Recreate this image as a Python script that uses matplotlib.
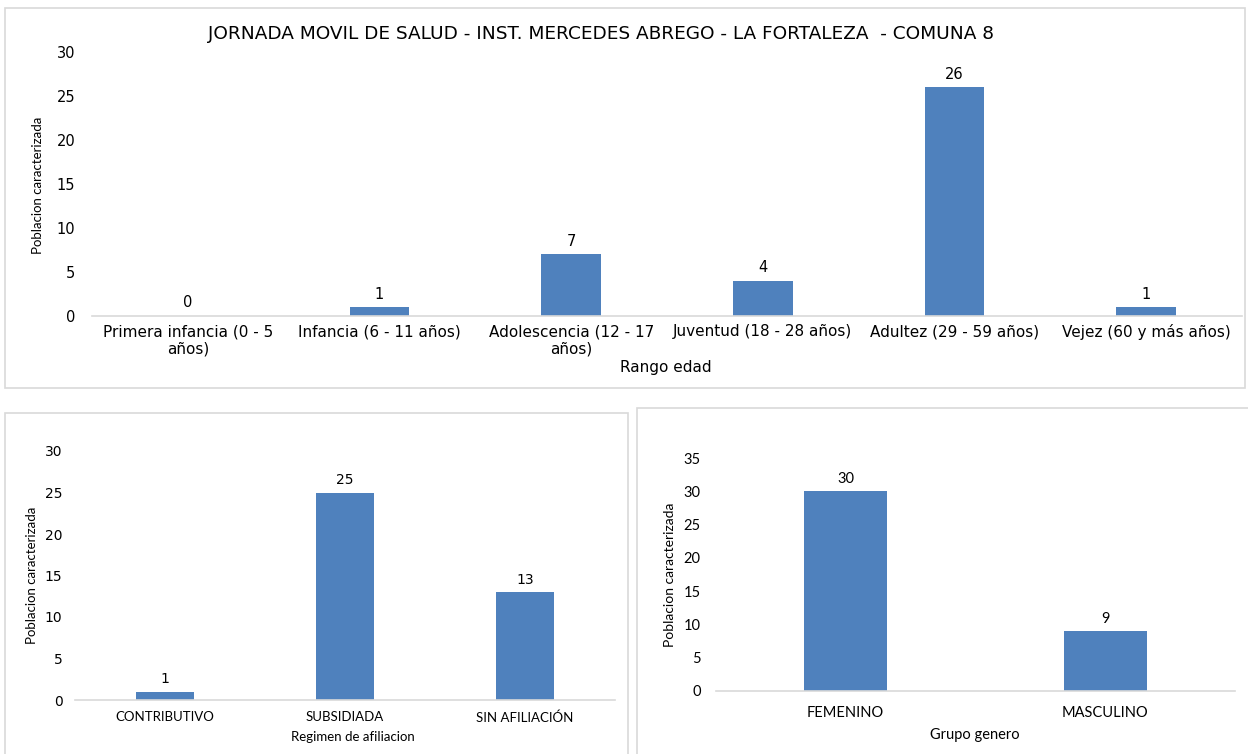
import matplotlib
matplotlib.use("Agg")
import matplotlib.pyplot as plt
from matplotlib.patches import Rectangle

# data
edad_cats = ['Primera infancia (0 - 5\naños)', 'Infancia (6 - 11 años)',
             'Adolescencia (12 - 17\naños)', 'Juventud (18 - 28 años)',
             'Adultez (29 - 59 años)', 'Vejez (60 y más años)']
edad_vals = [0, 1, 7, 4, 26, 1]

regimen_cats = ['CONTRIBUTIVO', 'SUBSIDIADA', 'SIN AFILIACIÓN']
regimen_vals = [1, 25, 13]

genero_cats = ['FEMENINO', 'MASCULINO']
genero_vals = [30, 9]

bar_color = '#4F81BD'
line_color = '#D9D9D9'

W, H = 1248, 754
fig = plt.figure(figsize=(W / 100, H / 100), dpi=100)


def fx(px):
    return px / W


def fy(py):
    return 1 - py / H


# panel borders
for (x0, y0, x1, y1) in [(5, 8, 1245, 388), (5, 413, 628, 760), (637, 408, 1252, 760)]:
    fig.patches.append(Rectangle((fx(x0), fy(y1)), fx(x1 - x0), fy(y0) - fy(y1),
                                 transform=fig.transFigure, fill=False,
                                 edgecolor=line_color, linewidth=1.2))


def bar_panel(rect, cats, vals, ymax, ystep, font, fs, width, pad, ypad, numfont, numfs):
    ax = fig.add_axes(rect)
    x = range(len(cats))
    ax.bar(x, vals, width=width, color=bar_color)
    ax.set_xlim(-0.5, len(cats) - 0.5)
    ax.set_ylim(0, ymax)
    ax.set_yticks(range(0, ymax + 1, ystep))
    ax.set_xticks(list(x))
    ax.set_xticklabels(cats, fontfamily=font, fontsize=fs, color='black', linespacing=1.15)
    for lab in ax.get_yticklabels():
        lab.set_fontfamily(numfont)
        lab.set_fontsize(numfs)
    ax.tick_params(axis='both', length=0, colors='black')
    ax.tick_params(axis='x', pad=pad)
    ax.tick_params(axis='y', pad=ypad)
    for s in ['top', 'right', 'left']:
        ax.spines[s].set_visible(False)
    ax.spines['bottom'].set_color(line_color)
    ax.spines['bottom'].set_linewidth(1.2)
    for xi, v in zip(x, vals):
        ax.annotate(str(v), (xi, v), xytext=(0, 4), textcoords='offset points',
                    ha='center', va='bottom', fontfamily=numfont, fontsize=numfs, color='black')
    return ax


# top chart
bar_panel([fx(92), fy(316), fx(1242) - fx(92), fy(52) - fy(316)],
          edad_cats, edad_vals, 30, 5, 'DejaVu Sans', 11, 0.31, 6, 12, 'DejaVu Sans', 10.5)
fig.text(fx(601), fy(34), 'JORNADA MOVIL DE SALUD - INST. MERCEDES ABREGO - LA FORTALEZA  - COMUNA 8',
         ha='center', va='center', fontfamily='DejaVu Sans', fontsize=13.3)
fig.text(fx(666), fy(368), 'Rango edad', ha='center', va='center',
         fontfamily='DejaVu Sans', fontsize=11)
fig.text(fx(38), fy(185), 'Poblacion caracterizada', ha='center', va='center',
         rotation=90, fontfamily='Lato', fontsize=9.5, stretch='condensed')

# bottom left
bar_panel([fx(75), fy(700), fx(615) - fx(75), fy(451) - fy(700)],
          regimen_cats, regimen_vals, 30, 5, 'Lato', 9.5, 0.32, 8, 9, 'DejaVu Sans', 10)
fig.text(fx(353), fy(737), 'Regimen de afiliacion', ha='center', va='center',
         fontfamily='Lato', fontsize=9.5)
fig.text(fx(32), fy(575), 'Poblacion caracterizada', ha='center', va='center',
         rotation=90, fontfamily='Lato', fontsize=9.5)

# bottom right
bar_panel([fx(716), fy(691), fx(1235) - fx(716), fy(458) - fy(691)],
          genero_cats, genero_vals, 35, 5, 'Lato', 10.5, 0.32, 11, 11, 'Lato', 10.5)
fig.text(fx(975), fy(735), 'Grupo genero', ha='center', va='center',
         fontfamily='Lato', fontsize=10.5)
fig.text(fx(670), fy(575), 'Poblacion caracterizada', ha='center', va='center',
         rotation=90, fontfamily='Lato', fontsize=10)

fig.savefig('out.png', dpi=100)
